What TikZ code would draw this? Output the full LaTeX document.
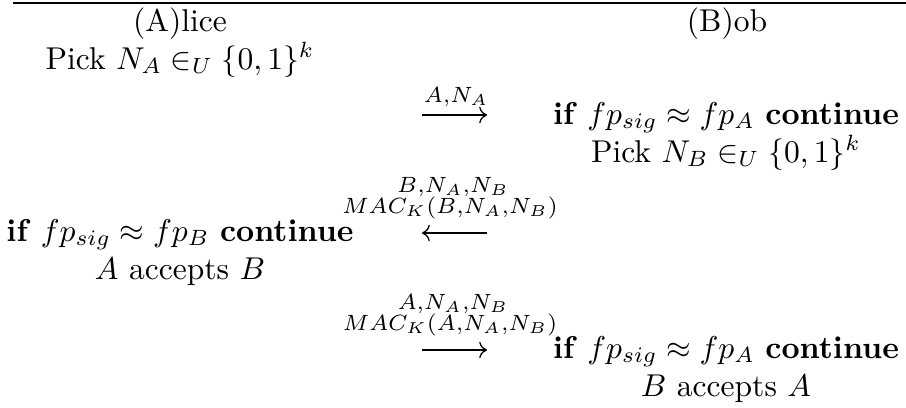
\documentclass[tikz,border=0pt]{standalone}
\usetikzlibrary{arrows.meta}
\begin{document}
\begin{tikzpicture}[x=0.317pt,y=-0.317pt,
  txt/.style={inner sep=0pt, anchor=base},
  msg/.style={-{Computer Modern Rightarrow}, line width=0.4pt}]
\useasboundingbox (0,0) rectangle (906,407);
\coordinate (ls) at (13,3);
\coordinate (le) at (906,3);
\draw[line width=0.4pt] (ls) -- (le);
% headers
\node[txt] (alice) at (180,31) {(A)lice};
\node[txt] (bob) at (727,31) {(B)ob};
\node[txt] (pickA) at (180,69) {Pick $N_A \in_U \{0,1\}^k$};
% message 1
\node[txt] (l1) at (456,102) {$\scriptstyle A,N_A$};
\coordinate (m1s) at (422,115);
\coordinate (m1e) at (487,115);
\draw[msg] (m1s) -- (m1e);
\node[txt] (chkA1) at (726,124) {\textbf{if} $fp_{sig} \approx fp_A$ \textbf{continue}};
\node[txt] (pickB) at (726,162) {Pick $N_B \in_U \{0,1\}^k$};
% message 2
\node[txt] (l2a) at (453,192) {$\scriptstyle B,N_A,N_B$};
\node[txt] (l2b) at (450,213) {$\scriptstyle MAC_K(B,N_A,N_B)$};
\coordinate (m2s) at (487,233);
\coordinate (m2e) at (422,233);
\draw[msg] (m2s) -- (m2e);
\node[txt] (chkB) at (180,241) {\textbf{if} $fp_{sig} \approx fp_B$ \textbf{continue}};
\node[txt] (accA) at (180,279) {$A$ accepts $B$};
% message 3
\node[txt] (l3a) at (453,309) {$\scriptstyle A,N_A,N_B$};
\node[txt] (l3b) at (450,330) {$\scriptstyle MAC_K(A,N_A,N_B)$};
\coordinate (m3s) at (422,350);
\coordinate (m3e) at (487,350);
\draw[msg] (m3s) -- (m3e);
\node[txt] (chkA2) at (726,358) {\textbf{if} $fp_{sig} \approx fp_A$ \textbf{continue}};
\node[txt] (accB) at (726,396) {$B$ accepts $A$};
\end{tikzpicture}
\end{document}
